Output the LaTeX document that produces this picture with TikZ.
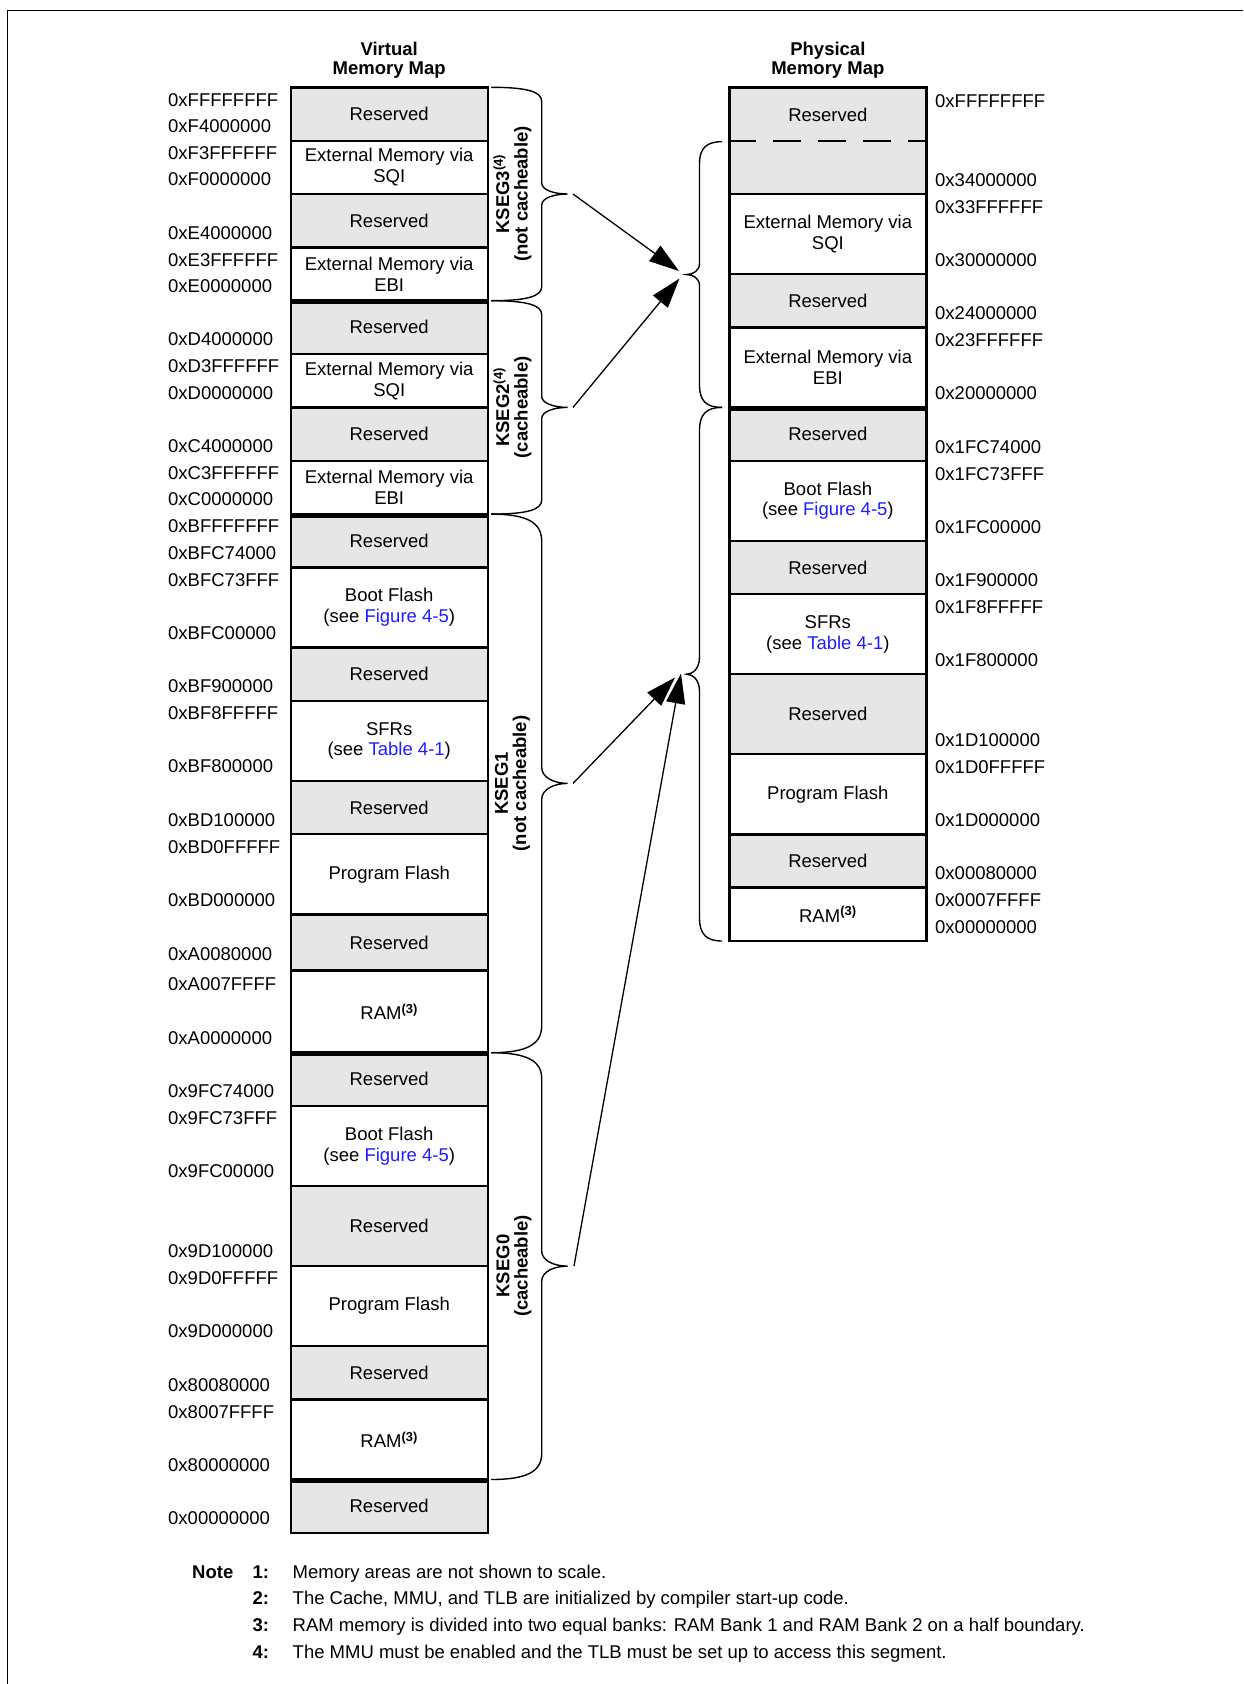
\documentclass[tikz,border=0pt]{standalone}
\usepackage{fontspec}
\setmainfont{Liberation Sans}
\usetikzlibrary{arrows.meta}
\definecolor{resgray}{RGB}{230,230,230}
\definecolor{lnk}{RGB}{30,30,255}
\newcommand\lk[1]{\textcolor{lnk}{#1}}
\newcommand\fs{\fontsize{18.5pt}{20.7pt}\selectfont}
\newcommand\segfont{\fontsize{18.5pt}{18.4pt}\selectfont\bfseries}
\newcommand\ramsup{\textsuperscript{\textbf{(3)}}}
\newcommand\cellat[6]{%
  \pgfmathsetmacro\cH{#4-#3}%
  \pgfmathsetmacro\cY{(#3+#4)/2}%
  \node[#5,minimum height=\cH pt] (#1) at (#2,\cY) {#6};}
\newcommand\mybrace[7]{%
  \pgfmathsetmacro\bYm{(#4+#5)/2}%
  \pgfmathsetmacro\bCa{#1+0.7*(#2-#1)}%
  \pgfmathsetmacro\bCb{#3-0.5*(#3-#2)}%
  \draw[brc] (#1,#4) .. controls (\bCa,#4) and (#2,{#4+0.3*#6}) .. (#2,{#4+#6})
    -- (#2,{\bYm-#7}) .. controls (#2,{\bYm-0.35*#7}) and (\bCb,\bYm) .. (#3,\bYm)
    .. controls (\bCb,\bYm) and (#2,{\bYm+0.35*#7}) .. (#2,{\bYm+#7})
    -- (#2,{#5-#6}) .. controls (#2,{#5-0.3*#6}) and (\bCa,#5) .. (#1,#5);}
\begin{document}
\begin{tikzpicture}[x=1pt,y=-1pt,
  cell/.style={draw,line width=2.4pt,minimum width=197pt,inner sep=0pt,align=center,font=\fs},
  res/.style={cell,fill=resgray},
  addr/.style={anchor=west,inner sep=0pt,font=\fs},
  seglab/.style={rotate=90,align=center,inner sep=0pt,font=\segfont},
  head/.style={anchor=base,inner sep=0pt,font=\fs\bfseries},
  sepline/.style={line width=5pt},
  brc/.style={line width=1.4pt},
  arr/.style={line width=1.3pt,-{Triangle[length=30pt,width=19pt]}},
  notetxt/.style={anchor=base west,inner sep=0pt,font=\fs},
  dsh/.style={line width=2pt,dash pattern=on 28pt off 17pt}]
\useasboundingbox (0,0) rectangle (1243,1684);
\fill[white] (0,0) rectangle (1243,1684);
\draw[line width=1.5pt] (7.3,1684) -- (7.3,10.3) -- (1243,10.3);

% headers
\node[head] (hv1) at (389.2,55) {Virtual};
\node[head] (hv2) at (389.2,74) {Memory Map};
\node[head] (hp1) at (827.85,55) {Physical};
\node[head] (hp2) at (827.85,74) {Memory Map};

% virtual memory map
\def\vx{389.2}
\cellat{v1}{\vx}{87.3}{140.7}{res}{Reserved}
\cellat{v2}{\vx}{140.7}{194.0}{cell}{External Memory via\\SQI}
\cellat{v3}{\vx}{194.0}{247.4}{res}{Reserved}
\cellat{v4}{\vx}{247.4}{300.7}{cell}{External Memory via\\EBI}
\cellat{v5}{\vx}{300.7}{354.0}{res}{Reserved}
\cellat{v6}{\vx}{354.0}{407.4}{cell}{External Memory via\\SQI}
\cellat{v7}{\vx}{407.4}{460.8}{res}{Reserved}
\cellat{v8}{\vx}{460.8}{514.1}{cell}{External Memory via\\EBI}
\cellat{v9}{\vx}{514.1}{567.5}{res}{Reserved}
\cellat{v10}{\vx}{567.5}{647.5}{cell}{Boot Flash\\(see \lk{Figure 4-5})}
\cellat{v11}{\vx}{647.5}{700.8}{res}{Reserved}
\cellat{v12}{\vx}{700.8}{780.9}{cell}{SFRs\\(see \lk{Table 4-1})}
\cellat{v13}{\vx}{780.9}{834.2}{res}{Reserved}
\cellat{v14}{\vx}{834.2}{914.3}{cell}{Program Flash}
\cellat{v15}{\vx}{914.3}{970.5}{res}{Reserved}
\cellat{v16}{\vx}{970.5}{1052.7}{cell}{RAM\ramsup}
\cellat{v17}{\vx}{1052.7}{1106.0}{res}{Reserved}
\cellat{v18}{\vx}{1106.0}{1186.0}{cell}{Boot Flash\\(see \lk{Figure 4-5})}
\cellat{v19}{\vx}{1186.0}{1266.0}{res}{Reserved}
\cellat{v20}{\vx}{1266.0}{1346.1}{cell}{Program Flash}
\cellat{v21}{\vx}{1346.1}{1399.5}{res}{Reserved}
\cellat{v22}{\vx}{1399.5}{1479.5}{cell}{RAM\ramsup}
\cellat{v23}{\vx}{1479.5}{1532.9}{res}{Reserved}
\foreach \n in {v4,v8,v16,v22}
  \draw[sepline] (\n.south west) -- (\n.south east);

% virtual addresses
\foreach \y/\t [count=\i] in {99.8/0xFFFFFFFF,126.2/0xF4000000,153.2/0xF3FFFFFF,179.5/0xF0000000,
  232.9/0xE4000000,259.9/0xE3FFFFFF,286.2/0xE0000000,339.5/0xD4000000,366.5/0xD3FFFFFF,
  392.9/0xD0000000,446.3/0xC4000000,473.3/0xC3FFFFFF,499.6/0xC0000000,526.6/0xBFFFFFFF,
  553.0/0xBFC74000,580.0/0xBFC73FFF,633.0/0xBFC00000,686.3/0xBF900000,713.3/0xBF8FFFFF,
  766.4/0xBF800000,819.7/0xBD100000,846.7/0xBD0FFFFF,899.8/0xBD000000,954.0/0xA0080000,
  984.5/0xA007FFFF,1038.2/0xA0000000,1091.5/0x9FC74000,1118.5/0x9FC73FFF,1171.5/0x9FC00000,
  1251.5/0x9D100000,1278.5/0x9D0FFFFF,1331.6/0x9D000000,1385.0/0x80080000,1412.0/0x8007FFFF,
  1465.0/0x80000000,1518.4/0x00000000}
  \node[addr] (va\i) at (168,\y) {\t};

% physical memory map
\def\px{827.85}
\cellat{p1}{\px}{87.3}{193.7}{res}{}
\node[font=\fs,inner sep=0pt] (p1t) at (\px,114.5) {Reserved};
\draw[dsh] ([yshift=-54.4pt]p1.north west) -- ([yshift=-54.4pt]p1.north east);
\cellat{p2}{\px}{193.7}{274.0}{cell}{External Memory via\\SQI}
\cellat{p3}{\px}{274.0}{327.4}{res}{Reserved}
\cellat{p4}{\px}{327.4}{407.4}{cell}{External Memory via\\EBI}
\cellat{p5}{\px}{407.4}{460.8}{res}{Reserved}
\cellat{p6}{\px}{460.8}{540.8}{cell}{Boot Flash\\(see \lk{Figure 4-5})}
\cellat{p7}{\px}{540.8}{594.2}{res}{Reserved}
\cellat{p8}{\px}{594.2}{674.2}{cell}{SFRs\\(see \lk{Table 4-1})}
\cellat{p9}{\px}{674.2}{754.2}{res}{Reserved}
\cellat{p10}{\px}{754.2}{834.3}{cell}{Program Flash}
\cellat{p11}{\px}{834.3}{887.6}{res}{Reserved}
\cellat{p12}{\px}{887.6}{941.0}{cell}{RAM\ramsup}
\draw[sepline] (p4.south west) -- (p4.south east);

% physical addresses
\foreach \y/\t [count=\i] in {100.7/0xFFFFFFFF,179.7/0x34000000,206.7/0x33FFFFFF,260.0/0x30000000,
  313.4/0x24000000,340.4/0x23FFFFFF,393.4/0x20000000,446.8/0x1FC74000,473.8/0x1FC73FFF,
  526.8/0x1FC00000,580.2/0x1F900000,607.2/0x1F8FFFFF,660.2/0x1F800000,740.2/0x1D100000,
  767.2/0x1D0FFFFF,820.3/0x1D000000,873.6/0x00080000,900.6/0x0007FFFF,927.0/0x00000000}
  \node[addr] (pa\i) at (935,\y) {\t};

% segment labels
\node[seglab] (s3) at (512.5,194) {KSEG3\textsuperscript{(4)}\\(not cacheable)};
\node[seglab] (s2) at (512.5,407.4) {KSEG2\textsuperscript{(4)}\\(cacheable)};
\node[seglab] (s1) at (512.5,783.4) {KSEG1\\(not cacheable)};
\node[seglab] (s0) at (514,1266) {KSEG0\\(cacheable)};

% braces
\mybrace{491}{541.7}{567.5}{87.3}{300.7}{14}{11}
\mybrace{491}{541.7}{567.5}{300.7}{514.1}{14}{11}
\mybrace{491}{541.7}{567.5}{514.1}{1052.7}{27}{16}
\mybrace{491}{541.7}{567.5}{1052.7}{1479.5}{26}{15}
\mybrace{722}{699.5}{686.5}{141.7}{407.4}{22}{11}
\mybrace{722}{699.5}{686.5}{407.4}{941.0}{23}{17}

% arrows
\coordinate (t3) at (573,194);
\coordinate (t2) at (573,407.4);
\coordinate (t1) at (573,783.4);
\coordinate (t0) at (574,1266);
\coordinate (e3) at (679,271);
\coordinate (e2) at (679.5,278.5);
\coordinate (e1) at (675,677.5);
\coordinate (e0) at (681,673.5);
\draw[arr] (t3) -- (e3);
\draw[arr] (t2) -- (e2);
\draw[arr] (t1) -- (e1);
\draw[arr] (t0) -- (e0);

% notes
\node[notetxt,font=\fs\bfseries] (nn) at (192,1578) {Note};
\node[notetxt,font=\fs\bfseries] (nk1) at (252.5,1578) {1:};
\node[notetxt,font=\fs\bfseries] (nk2) at (252.5,1604.8) {2:};
\node[notetxt,font=\fs\bfseries] (nk3) at (252.5,1631.6) {3:};
\node[notetxt,font=\fs\bfseries] (nk4) at (252.5,1658.4) {4:};
\node[notetxt] (nt1) at (292.5,1578) {Memory areas are not shown to scale.};
\node[notetxt] (nt2) at (292.5,1604.8) {The Cache, MMU, and TLB are initialized by compiler start-up code.};
\node[notetxt] (nt3) at (292.5,1631.6) {RAM memory is divided into two equal banks: RAM Bank 1 and RAM Bank 2 on a half boundary.};
\node[notetxt] (nt4) at (292.5,1658.4) {The MMU must be enabled and the TLB must be set up to access this segment.};
\end{tikzpicture}
\end{document}
